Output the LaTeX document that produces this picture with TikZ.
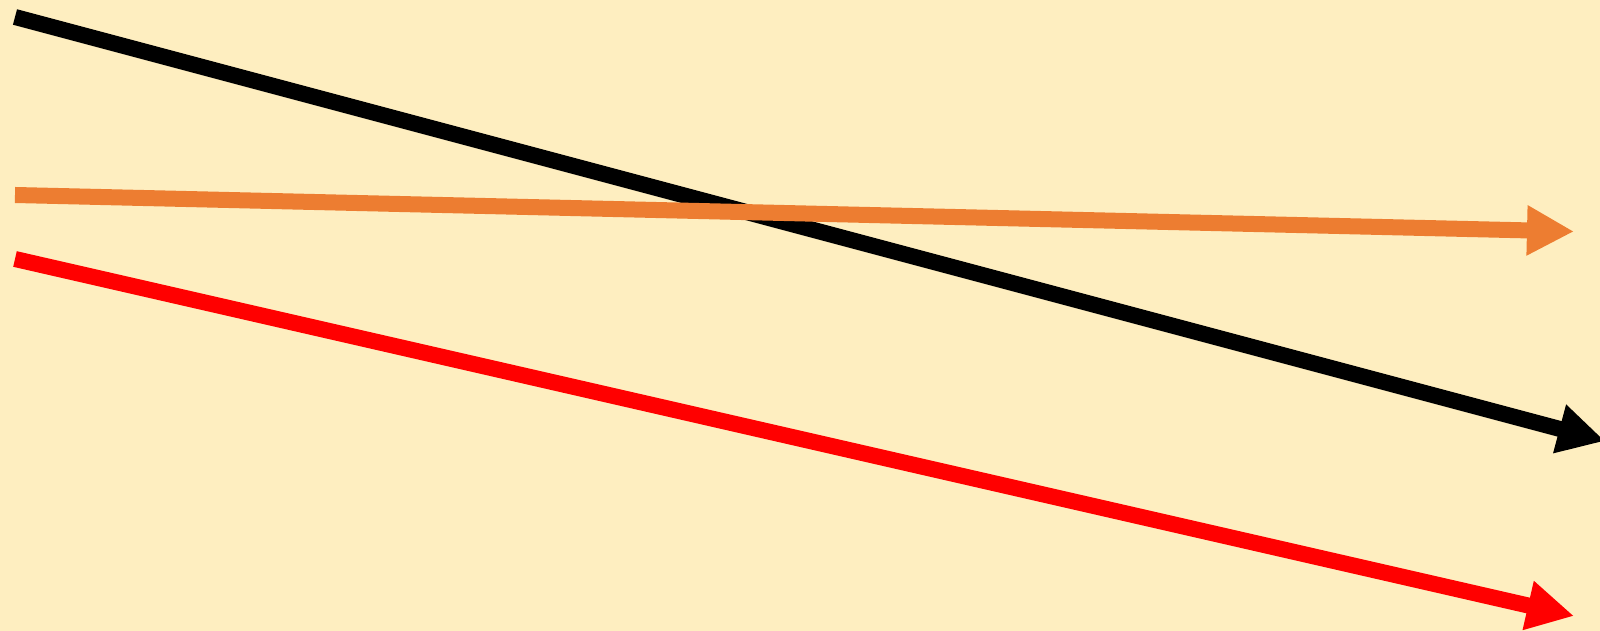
\documentclass[tikz,border=0pt]{standalone}
\usetikzlibrary{arrows.meta}
\usepackage{xcolor}
\definecolor{bgYellow}{HTML}{FEEEC0}
\definecolor{lineOrange}{HTML}{ED7D31}
\tikzset{
    >=Stealth,
    % Colors
    flowBlack/.style={draw=black},
    flowOrange/.style={draw=lineOrange},
    flowRed/.style={draw=red},
    % Flow
    flow/.style={-{Triangle[length=0.47cm, width=0.47cm]}, line width=0.16cm, line cap=butt}
}
\begin{document}
\begin{tikzpicture}[x=0.01cm, y=-0.01cm]

\fill[bgYellow] (0,0) rectangle (1600,631);
\clip (0,0) rectangle (1600,631);

\coordinate (blackStart) at (15,17);
\coordinate (blackEnd) at (1605,441);
\coordinate (orangeStart) at (15,195);
\coordinate (orangeEnd) at (1574,231.5);
\coordinate (redStart) at (15,259);
\coordinate (redEnd) at (1574,616);

\draw[flow, flowBlack] (blackStart) -- (blackEnd);
\draw[flow, flowOrange] (orangeStart) -- (orangeEnd);
\draw[flow, flowRed] (redStart) -- (redEnd);

\end{tikzpicture}
\end{document}
